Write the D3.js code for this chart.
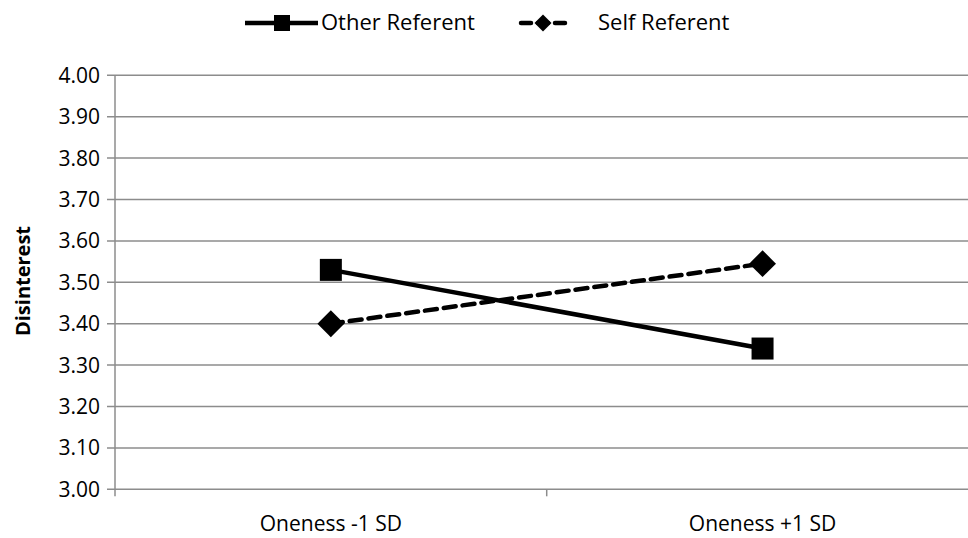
<!DOCTYPE html>
<html><head><meta charset="utf-8">
<script src="https://cdn.jsdelivr.net/npm/d3@7"></script>
<style>body{margin:0;background:#fff}svg{display:block}text{font-family:"Open Sans","Noto Sans",sans-serif;fill:#000}</style>
</head><body>
<svg id="c" width="968" height="538"></svg>
<script>
const categories = ["Oneness -1 SD", "Oneness +1 SD"];
const otherReferent = [3.53, 3.34];
const selfReferent = [3.40, 3.545];
const seriesNames = ["Other Referent", "Self Referent"];
const yTicks = [3.0,3.1,3.2,3.3,3.4,3.5,3.6,3.7,3.8,3.9,4.0];

const svg = d3.select("#c");
const L = 115, R = 978.4, T = 75.3, B = 489.3;
const FS = "21px";
const x = d3.scaleBand().domain(categories).range([L, R]);
const y = d3.scaleLinear().domain([3, 4]).range([B, T]);

// gridlines
svg.append("g").selectAll("line").data(yTicks).join("line")
  .attr("x1", L-8).attr("x2", 968).attr("y1", d=>y(d)).attr("y2", d=>y(d))
  .attr("stroke", "#8c8c8c").attr("stroke-width", 1.5);
// y axis
svg.append("line").attr("x1", L).attr("x2", L).attr("y1", T).attr("y2", B+7)
  .attr("stroke", "#8c8c8c").attr("stroke-width", 1.5);
// x ticks
svg.append("line").attr("x1", x(categories[1])).attr("x2", x(categories[1])).attr("y1", B).attr("y2", B+7)
  .attr("stroke", "#8c8c8c").attr("stroke-width", 1.5);
// y labels
svg.append("g").selectAll("text").data(yTicks).join("text")
  .attr("x", 100).attr("y", d=>y(d)).attr("dy", "0.36em").attr("text-anchor", "end")
  .style("font-size", FS).text(d=>d.toFixed(2));
// x labels
svg.append("g").selectAll("text").data(categories).join("text")
  .attr("x", d=>x(d)+x.bandwidth()/2).attr("y", 523).attr("dy", "0.36em").attr("text-anchor", "middle")
  .style("font-size", FS).text(d=>d);
// y title
svg.append("text").attr("transform", "translate(23,281) rotate(-90)").attr("text-anchor", "middle")
  .attr("dy", "0.36em").style("font-size", "20px").style("font-weight", "bold").text("Disinterest");

const cx = (i)=>x(categories[i])+x.bandwidth()/2;
const line = d3.line().x((d,i)=>cx(i)).y(d=>y(d));
svg.append("path").attr("d", line(otherReferent)).attr("fill","none").attr("stroke","#000").attr("stroke-width",4.5);
svg.append("path").attr("d", line(selfReferent)).attr("fill","none").attr("stroke","#000").attr("stroke-width",4.5)
  .attr("stroke-dasharray","12,7").attr("stroke-linecap","round");

const sq = d3.symbol().type(d3.symbolSquare).size(22*22);
svg.append("g").selectAll("path").data(otherReferent).join("path")
  .attr("d", sq).attr("transform",(d,i)=>`translate(${cx(i)},${y(d)})`).attr("fill","#000");
svg.append("g").selectAll("path").data(selfReferent).join("path")
  .attr("d", d3.symbol().type(d3.symbolSquare).size(19*19))
  .attr("transform",(d,i)=>`translate(${cx(i)},${y(d)}) rotate(45)`).attr("fill","#000");

// legend
const lg = svg.append("g");
lg.append("line").attr("x1",245).attr("x2",318).attr("y1",23).attr("y2",23).attr("stroke","#000").attr("stroke-width",4.5);
lg.append("path").attr("d", d3.symbol().type(d3.symbolSquare).size(16*16)).attr("transform","translate(282,23)");
lg.append("text").attr("x",321).attr("y",22).attr("dy","0.36em").style("font-size","22px").text(seriesNames[0]);
lg.append("line").attr("x1",521).attr("x2",566).attr("y1",23).attr("y2",23).attr("stroke","#000").attr("stroke-width",4.5)
  .attr("stroke-dasharray","10,7").attr("stroke-linecap","round");
lg.append("path").attr("d", d3.symbol().type(d3.symbolSquare).size(12*12)).attr("transform","translate(543,23) rotate(45)");
lg.append("text").attr("x",598).attr("y",22).attr("dy","0.36em").style("font-size","22px").text(seriesNames[1]);
</script>
</body></html>
